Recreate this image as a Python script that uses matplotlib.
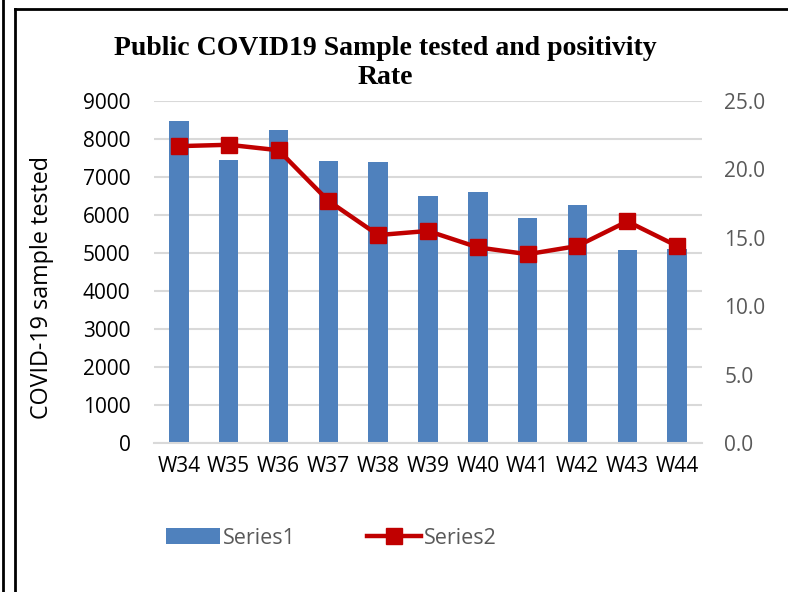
import matplotlib
matplotlib.use("Agg")
import matplotlib.pyplot as plt
from matplotlib.lines import Line2D
import numpy as np

weeks = ["W34", "W35", "W36", "W37", "W38", "W39", "W40", "W41", "W42", "W43", "W44"]
samples_tested = [8480, 7450, 8240, 7410, 7390, 6490, 6600, 5920, 6260, 5090, 5100]
positivity_rate = [21.7, 21.8, 21.4, 17.7, 15.2, 15.5, 14.3, 13.8, 14.4, 16.2, 14.4]
left_ticks = [0, 1000, 2000, 3000, 4000, 5000, 6000, 7000, 8000, 9000]
right_ticks = [0, 5, 10, 15, 20, 25]

W, H = 788, 592
fig = plt.figure(figsize=(W / 100, H / 100), dpi=100)
tick_font = "Open Sans"

ax = fig.add_axes([154 / W, 1 - 443 / H, 548 / W, 342 / H])
x = np.arange(len(weeks))
bars = ax.bar(x, samples_tested, width=0.39, color="#4f81bd", zorder=2, label="Series1")
ax.set_ylim(0, 9000)
ax.set_xlim(-0.5, len(weeks) - 0.5)
ax.set_yticks(left_ticks)
ax.set_yticklabels([str(v) for v in left_ticks], fontsize=15, family=tick_font, color="black")
ax.set_xticks(x)
ax.set_xticklabels(weeks, fontsize=15, family=tick_font, color="black")
ax.tick_params(axis="y", length=0, pad=17)
ax.tick_params(axis="x", length=0, pad=9)
ax.grid(axis="y", color="#d9d9d9", linewidth=1.5, zorder=0)
for s in ["top", "right", "left"]:
    ax.spines[s].set_visible(False)
ax.spines["bottom"].set_color("#d9d9d9")
ax.spines["bottom"].set_linewidth(1.5)
ax.set_ylabel("COVID-19 sample tested", fontsize=16.8, family=tick_font)
ax.yaxis.set_label_coords(-100 / 548, 0.456)

ax2 = ax.twinx()
line, = ax2.plot(x, positivity_rate, color="#c00000", linewidth=3.2, marker="s",
                 markersize=12, markerfacecolor="#c00000", markeredgecolor="#c00000",
                 solid_joinstyle="round", zorder=3, label="Series2")
ax2.set_ylim(0, 25)
ax2.set_yticks(right_ticks)
ax2.set_yticklabels([f"{v:.1f}" for v in right_ticks], fontsize=15, family=tick_font, color="#595959")
ax2.tick_params(axis="y", length=0, pad=16)
for s in ["top", "right", "left", "bottom"]:
    ax2.spines[s].set_visible(False)

fig.text(385 / W, 1 - 63 / H, "Public COVID19 Sample tested and positivity\nRate",
         ha="center", va="center", fontsize=20, fontweight="bold",
         family="Liberation Serif", linespacing=1.2)

leg = fig.legend(handles=[bars, line], labels=["Series1", "Series2"], loc="center left",
                 bbox_to_anchor=(166 / W, 1 - 538 / H), ncol=2, frameon=False,
                 prop={"family": tick_font, "size": 15.5}, handlelength=2.5,
                 handleheight=0.7, handletextpad=0.15, columnspacing=3.3, borderpad=0,
                 borderaxespad=0)
for t in leg.get_texts():
    t.set_color("#595959")

# frame lines
fig.add_artist(Line2D([3 / W, 3 / W], [0, 1], color="black", linewidth=2, transform=fig.transFigure))
fig.add_artist(Line2D([15 / W, 15 / W], [0, 1 - 9 / H], color="black", linewidth=2, transform=fig.transFigure))
fig.add_artist(Line2D([15 / W, 1], [1 - 9 / H, 1 - 9 / H], color="black", linewidth=2, transform=fig.transFigure))

fig.savefig("out.png", dpi=100)
